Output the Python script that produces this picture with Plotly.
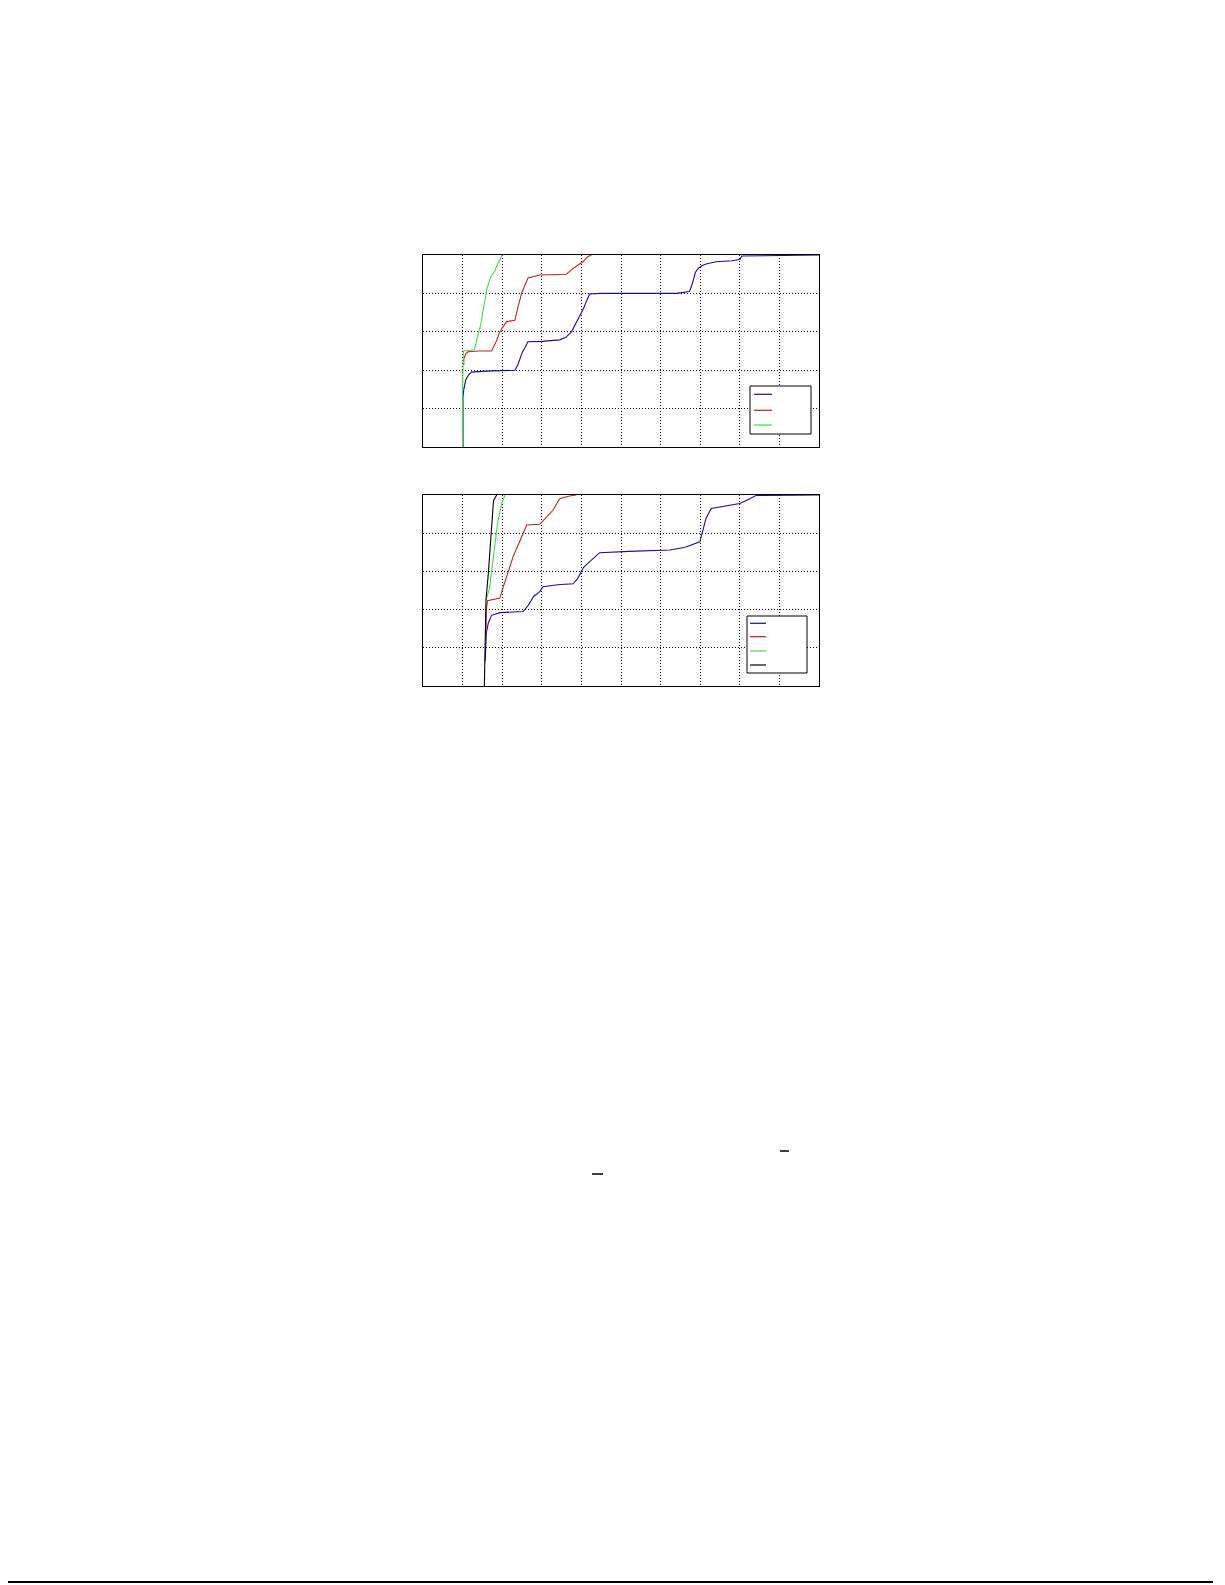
import plotly.graph_objects as go

# oberes Diagramm: x in Gittereinheiten (0..10), y als Anteil (0..1)
top_blue_x = [1.01, 1.01, 1.03, 1.08, 1.15, 1.22, 1.60, 2.10, 2.32, 2.40, 2.50, 2.58, 2.65, 3.00, 3.30, 3.45, 3.60, 3.75, 3.90, 4.05, 4.15, 4.21, 4.50, 5.50, 6.40, 6.73, 6.80, 6.88, 6.95, 7.05, 7.15, 7.40, 7.80, 8.00, 8.05, 8.60, 9.34, 10.0]
top_blue_y = [0.0, 0.26, 0.30, 0.35, 0.375, 0.39, 0.395, 0.40, 0.40, 0.43, 0.49, 0.52, 0.548, 0.550, 0.553, 0.558, 0.57, 0.60, 0.66, 0.72, 0.77, 0.797, 0.80, 0.80, 0.80, 0.81, 0.85, 0.91, 0.93, 0.945, 0.953, 0.965, 0.970, 0.977, 0.995, 0.996, 0.998, 1.0]

top_red_x = [1.03, 1.03, 1.08, 1.14, 1.40, 1.73, 1.85, 1.94, 2.11, 2.32, 2.40, 2.49, 2.65, 2.95, 3.62, 3.70, 3.79, 3.90, 4.04, 4.15, 4.25]
top_red_y = [0.427, 0.46, 0.485, 0.496, 0.50, 0.50, 0.55, 0.60, 0.653, 0.66, 0.73, 0.80, 0.88, 0.896, 0.90, 0.915, 0.93, 0.945, 0.965, 0.99, 1.0]

top_green_x = [1.00, 1.00, 1.02, 1.30, 1.38, 1.45, 1.55, 1.62, 1.72, 1.80, 1.88, 1.96, 2.00]
top_green_y = [0.0, 0.30, 0.50, 0.506, 0.58, 0.63, 0.75, 0.83, 0.89, 0.91, 0.95, 0.99, 1.0]

# unteres Diagramm
bot_blue_x = [1.57, 1.60, 1.65, 1.73, 1.94, 2.53, 2.65, 2.80, 2.95, 3.03, 3.40, 3.79, 3.90, 4.05, 4.21, 4.46, 5.20, 6.23, 6.60, 6.99, 7.05, 7.15, 7.28, 7.60, 8.00, 8.20, 8.42, 9.34, 10.0]
bot_blue_y = [0.13, 0.28, 0.33, 0.37, 0.384, 0.39, 0.42, 0.47, 0.494, 0.52, 0.53, 0.535, 0.56, 0.62, 0.651, 0.698, 0.705, 0.712, 0.725, 0.755, 0.80, 0.88, 0.929, 0.94, 0.955, 0.975, 0.998, 0.999, 1.0]

bot_red_x = [1.59, 1.60, 1.63, 1.94, 2.03, 2.15, 2.28, 2.45, 2.62, 2.95, 3.10, 3.28, 3.45, 3.70, 3.87]
bot_red_y = [0.276, 0.40, 0.447, 0.46, 0.52, 0.60, 0.68, 0.76, 0.843, 0.847, 0.88, 0.92, 0.98, 0.995, 1.0]

bot_green_x = [1.59, 1.68, 1.78, 1.88, 1.99, 2.07]
bot_green_y = [0.45, 0.51, 0.68, 0.85, 0.956, 1.0]

bot_black_x = [1.55, 1.56, 1.58, 1.59, 1.65, 1.73, 1.78, 1.86]
bot_black_y = [0.0, 0.10, 0.30, 0.45, 0.59, 0.85, 0.97, 1.0]

blau = "#10109a"
rot = "#c02020"
gruen = "#44dd44"
schwarz = "#000000"

W, H = 1225, 1585
RAND = 8  # Standardrand des <body> der HTML-Seite

def px(v):
    return (v - RAND) / W

def py(v):
    return 1 - (v - RAND) / H

fig = go.Figure()

def kurve(x, y, farbe, xa, ya):
    fig.add_trace(go.Scatter(x=x, y=y, mode="lines", line=dict(color=farbe, width=1.1),
                             xaxis=xa, yaxis=ya, showlegend=False, hoverinfo="skip"))

kurve(top_blue_x, top_blue_y, blau, "x", "y")
kurve(top_red_x, top_red_y, rot, "x", "y")
kurve(top_green_x, top_green_y, gruen, "x", "y")
kurve(bot_blue_x, bot_blue_y, blau, "x2", "y2")
kurve(bot_red_x, bot_red_y, rot, "x2", "y2")
kurve(bot_green_x, bot_green_y, gruen, "x2", "y2")
kurve(bot_black_x, bot_black_y, schwarz, "x2", "y2")

achse = dict(showline=True, mirror=True, linecolor="black", linewidth=1,
             showgrid=True, gridcolor="black", gridwidth=1, griddash="1px,2px",
             showticklabels=False, ticks="", zeroline=False, fixedrange=True)

xd = [px(423), px(819)]
fig.update_layout(
    width=W, height=H,
    paper_bgcolor="white", plot_bgcolor="white",
    margin=dict(l=0, r=0, t=0, b=0),
    xaxis=dict(achse, domain=xd, range=[0, 10], dtick=1),
    yaxis=dict(achse, domain=[py(447), py(255)], range=[0, 1], dtick=0.2),
    xaxis2=dict(achse, domain=xd, range=[0, 10], dtick=1, anchor="y2"),
    yaxis2=dict(achse, domain=[py(686), py(495)], range=[0, 1], dtick=0.2, anchor="x2"),
    showlegend=False,
)

# Legenden (ohne Beschriftung, wie im Original)
def legende(x0, y0, x1, y1, farben, zeilen, lx0, lx1):
    fig.add_shape(type="rect", xref="paper", yref="paper", x0=px(x0), x1=px(x1),
                  y0=py(y1), y1=py(y0), line=dict(color="black", width=1), fillcolor="white",
                  layer="above")
    for f, yy in zip(farben, zeilen):
        fig.add_shape(type="line", xref="paper", yref="paper", x0=px(lx0), x1=px(lx1),
                      y0=py(yy), y1=py(yy), line=dict(color=f, width=1.2), layer="above")

legende(750, 386, 811, 434, [blau, rot, gruen], [394.3, 410.3, 425], 754, 772)
legende(747, 616, 807, 673, [blau, rot, gruen, schwarz], [623.3, 636.7, 651, 665], 750, 766)

# Reste des Seitenlayouts: kurze Striche und die Linie unten
fig.add_shape(type="line", xref="paper", yref="paper", x0=px(780), x1=px(789),
              y0=py(1151), y1=py(1151), line=dict(color="black", width=1.5))
fig.add_shape(type="line", xref="paper", yref="paper", x0=px(592), x1=px(603),
              y0=py(1174), y1=py(1174), line=dict(color="black", width=1.5))
fig.add_shape(type="line", xref="paper", yref="paper", x0=px(8), x1=px(1213),
              y0=py(1582), y1=py(1582), line=dict(color="black", width=2))

fig.write_html("out.html")
